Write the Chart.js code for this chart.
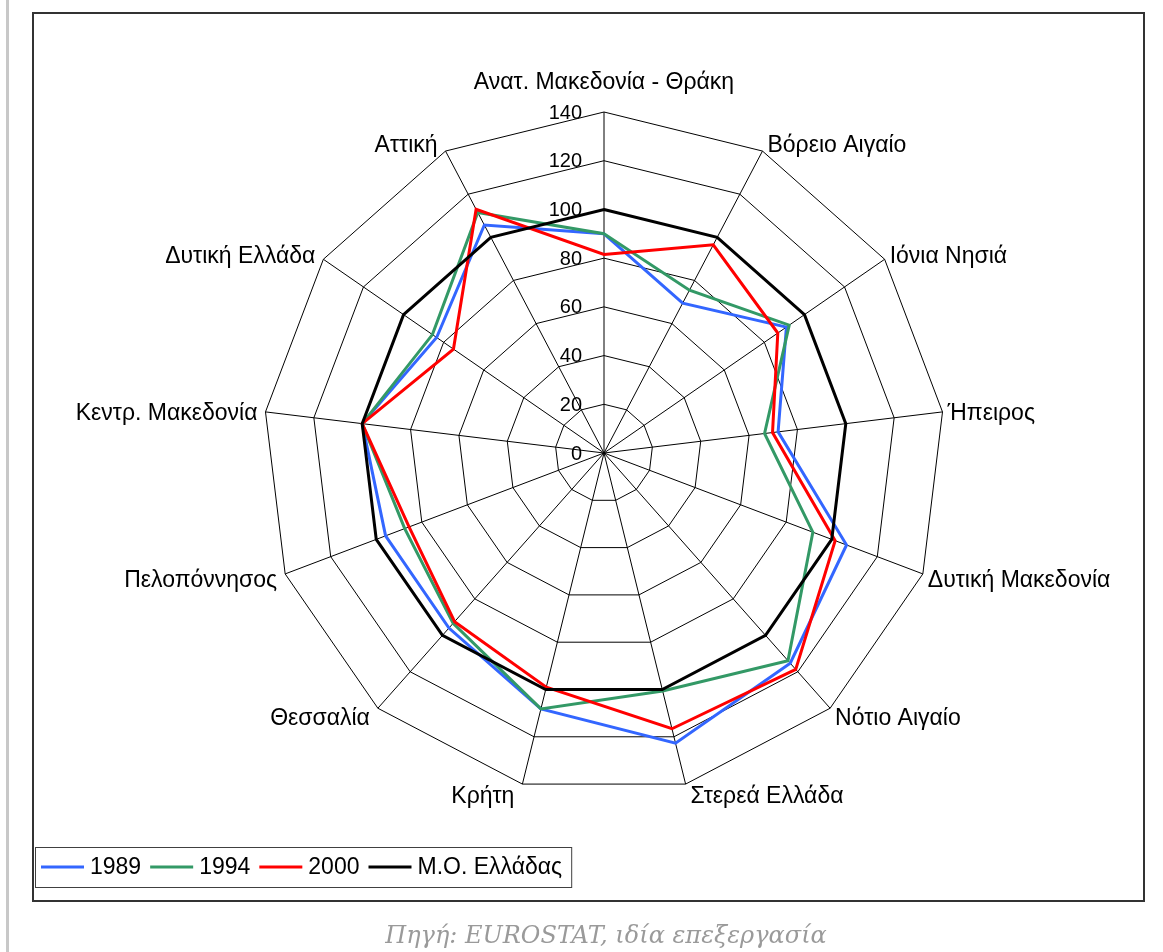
<!DOCTYPE html>
<html>
<head>
<meta charset="utf-8">
<script src="https://cdn.jsdelivr.net/npm/chart.js@4.4.1/dist/chart.umd.min.js"></script>
<style>
  body { margin: 0; background: #fff; }
  #wrap { position: relative; width: 1163px; height: 952px; overflow: hidden; }
  #side { position: absolute; left: 6px; top: 0; width: 3px; height: 952px; background: #c8c8c8; }
  #frame { position: absolute; left: 32px; top: 12px; width: 1109px; height: 886px; border: 2px solid #333; }
  #chart { position: absolute; left: 0; top: 0; }
  #src { position: absolute; left: 0; top: 921px; width: 1212px; text-align: center;
         font: italic 24px "DejaVu Serif", serif; color: #9a9a9a; }
</style>
</head>
<body>
<div id="wrap">
  <div id="side"></div>
  <div id="frame"></div>
  <canvas id="chart" width="1163" height="952"></canvas>
  <div id="src">Πηγή: EUROSTAT, ιδία επεξεργασία</div>
</div>
<script>
// περιφέρειες, δεξιόστροφα από πάνω
const regions = ['Ανατ. Μακεδονία - Θράκη', 'Βόρειο Αιγαίο', 'Ιόνια Νησιά', 'Ήπειρος',
  'Δυτική Μακεδονία', 'Νότιο Αιγαίο', 'Στερεά Ελλάδα', 'Κρήτη', 'Θεσσαλία',
  'Πελοπόννησος', 'Κεντρ. Μακεδονία', 'Δυτική Ελλάδα', 'Αττική'];

const y1989 = [90, 69.5, 91, 72, 106.5, 115.3, 122.7, 108.2, 96, 95.9, 100, 83.5, 105.7];
const y1994 = [90, 75.5, 92.4, 66.4, 91.7, 113.9, 100.6, 108.2, 93.4, 87.5, 100, 85.6, 111.5];
const y2000 = [81.5, 96.5, 86.7, 69.7, 101.5, 118.7, 116.6, 99, 92.5, 85.6, 100, 75.1, 113];
const mesosOros = [100, 100, 100, 100, 100, 100, 100, 100, 100, 100, 100, 100, 100];

const axisMin = 0, axisMax = 140, axisStep = 20;

const FONT = '"Liberation Sans", Arial, sans-serif';

// ετικέτες άξονα, ονόματα περιφερειών και υπόμνημα
const extras = {
  id: 'extras',
  beforeDatasetsDraw(chart) {
    const ctx = chart.ctx;
    const r = chart.scales.r;
    ctx.save();
    ctx.font = '20px ' + FONT;
    ctx.fillStyle = '#000';
    ctx.textAlign = 'right';
    ctx.textBaseline = 'middle';
    r.ticks.forEach(t => {
      const y = r.yCenter - r.getDistanceFromCenterForValue(t.value);
      ctx.fillText(t.label, r.xCenter - 22, y + 1);
    });
    ctx.restore();
  },
  afterDraw(chart) {
    const ctx = chart.ctx;
    const r = chart.scales.r;
    ctx.save();
    ctx.font = '23px ' + FONT;
    ctx.fillStyle = '#000';
    ctx.textBaseline = 'middle';
    chart.data.labels.forEach((lab, i) => {
      const p = r.getPointPosition(i, r.drawingArea);
      const a = r.getIndexAngle(i);
      if (i === 0) {
        ctx.textAlign = 'center';
        ctx.fillText(lab, r.xCenter, r.yCenter - r.drawingArea - 29);
        return;
      }
      const right = p.x > r.xCenter;
      ctx.textAlign = right ? 'left' : 'right';
      ctx.fillText(lab, p.x + (right ? 5 : -8), p.y - Math.cos(a) * 10 + 3);
    });

    // υπόμνημα
    const bx = 35, by = 847, bh = 40;
    let cx = bx + 6;
    const my = by + bh / 2;
    chart.data.datasets.forEach(ds => {
      ctx.strokeStyle = ds.borderColor;
      ctx.lineWidth = 3;
      ctx.beginPath();
      ctx.moveTo(cx, my);
      ctx.lineTo(cx + 43, my);
      ctx.stroke();
      cx += 49;
      ctx.textAlign = 'left';
      ctx.fillText(ds.label, cx, my + 1);
      cx += ctx.measureText(ds.label).width + 9;
    });
    ctx.strokeStyle = '#404040';
    ctx.lineWidth = 1;
    ctx.strokeRect(bx + 0.5, by + 0.5, cx - bx, bh);
    ctx.restore();
  }
};

new Chart(document.getElementById('chart'), {
  type: 'radar',
  data: {
    labels: regions,
    datasets: [
      { label: '1989', data: y1989, borderColor: '#3366ff', order: 4 },
      { label: '1994', data: y1994, borderColor: '#339966', order: 3 },
      { label: '2000', data: y2000, borderColor: '#ff0000', order: 2 },
      { label: 'Μ.Ο. Ελλάδας', data: mesosOros, borderColor: '#000000', order: 1 }
    ]
  },
  options: {
    responsive: false,
    animation: false,
    layout: { padding: { top: 112, bottom: 158, left: 263, right: 218 } },
    elements: {
      line: { borderWidth: 3, tension: 0, fill: false },
      point: { radius: 0, hoverRadius: 0 }
    },
    scales: {
      r: {
        min: axisMin,
        max: axisMax,
        ticks: { stepSize: axisStep, display: false },
        grid: { color: '#000', lineWidth: 1 },
        angleLines: { color: '#000', lineWidth: 1 },
        pointLabels: { display: false }
      }
    },
    plugins: {
      legend: { display: false },
      tooltip: { enabled: false }
    }
  },
  plugins: [extras]
});
</script>
</body>
</html>
